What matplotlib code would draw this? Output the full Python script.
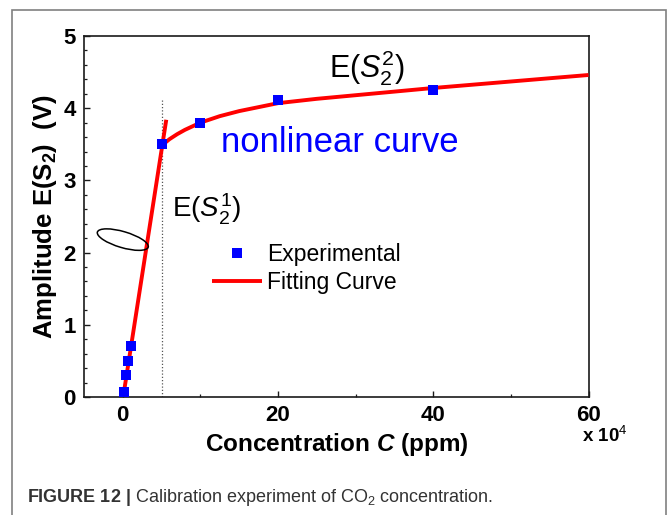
"""
Calibration curve of the CO2 sensor: second-harmonic amplitude E(S2)
against gas concentration, with the linear fit at low concentration and
the nonlinear fit above ~5x10^4 ppm.
"""

import matplotlib
matplotlib.use("Agg")
import matplotlib.pyplot as plt
import matplotlib.transforms as mtransforms
from matplotlib.patches import Ellipse, Rectangle
from matplotlib.ticker import MultipleLocator

plt.rcParams["font.family"] = ["Liberation Sans", "DejaVu Sans"]
plt.rcParams["mathtext.fontset"] = "custom"
plt.rcParams["mathtext.rm"] = "Liberation Sans"
plt.rcParams["mathtext.it"] = "Liberation Sans:italic"
plt.rcParams["mathtext.bf"] = "Liberation Sans:bold"
plt.rcParams["mathtext.bfit"] = "Liberation Sans:italic:bold"

# measured amplitudes (concentration in units of 10^4 ppm, amplitude in V)
exp_conc = [0.1, 0.45, 0.7, 1.0, 5.1, 10.0, 20.0, 40.0]
exp_amp = [0.07, 0.30, 0.50, 0.70, 3.50, 3.79, 4.11, 4.25]

# linear fit over the low-concentration range
lin_conc = [0.05, 5.6]
lin_amp = [0.0, 3.84]

# nonlinear fit above the knee
nl_conc = [5.1, 6.0, 7.0, 8.0, 10.0, 12.5, 15.0, 20.0, 25.0, 30.0, 40.0, 50.0, 60.0]
nl_amp = [3.49, 3.57, 3.64, 3.70, 3.80, 3.89, 3.96, 4.07, 4.13, 4.18, 4.28, 4.37, 4.46]

KNEE_CONC = 5.0
KNEE_TOP = 4.12

X_TICKS = [0, 20, 40, 60]
Y_TICKS = [0, 1, 2, 3, 4, 5]

BLUE = "#0000ff"
RED = "#ff0000"
AXIS_COLOR = "#1a1a1a"


def main():
    fig = plt.figure(figsize=(6.67, 5.15), dpi=100)
    ax = fig.add_axes([0.1259, 0.2291, 0.7565, 0.7010])

    ax.plot(lin_conc, lin_amp, color=RED, linewidth=2.8,
            solid_capstyle="butt", zorder=3)
    ax.plot(nl_conc, nl_amp, color=RED, linewidth=2.8,
            solid_capstyle="butt", label="Fitting Curve", zorder=3)
    ax.plot(exp_conc, exp_amp, linestyle="none", marker="s", markersize=6.5,
            color=BLUE, markeredgewidth=0, label="Experimental", zorder=4)

    # boundary between the two fitting regimes
    ax.plot([KNEE_CONC, KNEE_CONC], [0, KNEE_TOP], color="#555555",
            linewidth=0.9, linestyle=(0, (1, 1.6)), zorder=2)

    # ellipse marking the linear branch, sized in inches around a data point
    ell_tf = fig.dpi_scale_trans + mtransforms.ScaledTranslation(0.0, 2.18, ax.transData)
    ax.add_patch(Ellipse((0, 0), width=0.53, height=0.16, angle=-16.5,
                         fill=False, edgecolor="black", linewidth=1.1,
                         transform=ell_tf, zorder=5))

    ax.text(26.5, 4.42, r"E($S_2^2$)", fontsize=22, ha="left", va="baseline")
    ax.text(12.7, 3.39, "nonlinear curve", fontsize=25, color=BLUE,
            ha="left", va="baseline")
    ax.text(6.4, 2.49, r"E($S_2^1$)", fontsize=20, ha="left", va="baseline")

    handles, labels = ax.get_legend_handles_labels()
    ax.legend(handles[::-1], labels[::-1], loc="upper left",
              bbox_to_anchor=(0.2537, 0.426), frameon=False, fontsize=16.5,
              numpoints=1, handlelength=2.2, handletextpad=0.2,
              labelspacing=0.2, borderpad=0, borderaxespad=0)

    ax.set_xlim(-5, 60)
    ax.set_ylim(0, 5)
    ax.set_xticks(X_TICKS)
    ax.set_yticks(Y_TICKS)
    ax.xaxis.set_minor_locator(MultipleLocator(10))
    ax.yaxis.set_minor_locator(MultipleLocator(0.2))
    ax.tick_params(axis="both", which="major", direction="in", length=4,
                   width=1.0, color=AXIS_COLOR, labelsize=16, pad=6,
                   top=False, right=False)
    ax.tick_params(axis="both", which="minor", direction="in", length=2.2,
                   width=0.9, color=AXIS_COLOR, top=False, right=False)
    for label in ax.get_xticklabels() + ax.get_yticklabels():
        label.set_fontweight("bold")
    for spine in ax.spines.values():
        spine.set_linewidth(1.2)
        spine.set_color(AXIS_COLOR)

    ax.set_xlabel(r"Concentration $\mathbfit{C}$ (ppm)", fontsize=17.5,
                  fontweight="bold", labelpad=3)
    ax.set_ylabel(r"Amplitude E($\mathbf{S_2}$)  (V)", fontsize=18.5,
                  fontweight="bold", labelpad=3)

    fig.text(582 / 667, 1 - 442 / 515, r"x 10$^{4}$", fontsize=13.5,
             fontweight="bold", ha="left", va="baseline")

    fig.text(27 / 667, 1 - 502 / 515,
             r"$\mathbf{FIGURE\ 12\ |}$ Calibration experiment of CO$_2$ concentration.",
             fontsize=13, color="#333333", ha="left", va="baseline")

    # panel frame around plot and caption, open at the bottom edge
    fig.patches.append(Rectangle((12, -10), 653.5, 515, transform=None,
                                 fill=False, edgecolor="#808080",
                                 linewidth=1.2))

    fig.savefig("out.png", dpi=100, facecolor="white")
    plt.close(fig)


if __name__ == "__main__":
    main()
